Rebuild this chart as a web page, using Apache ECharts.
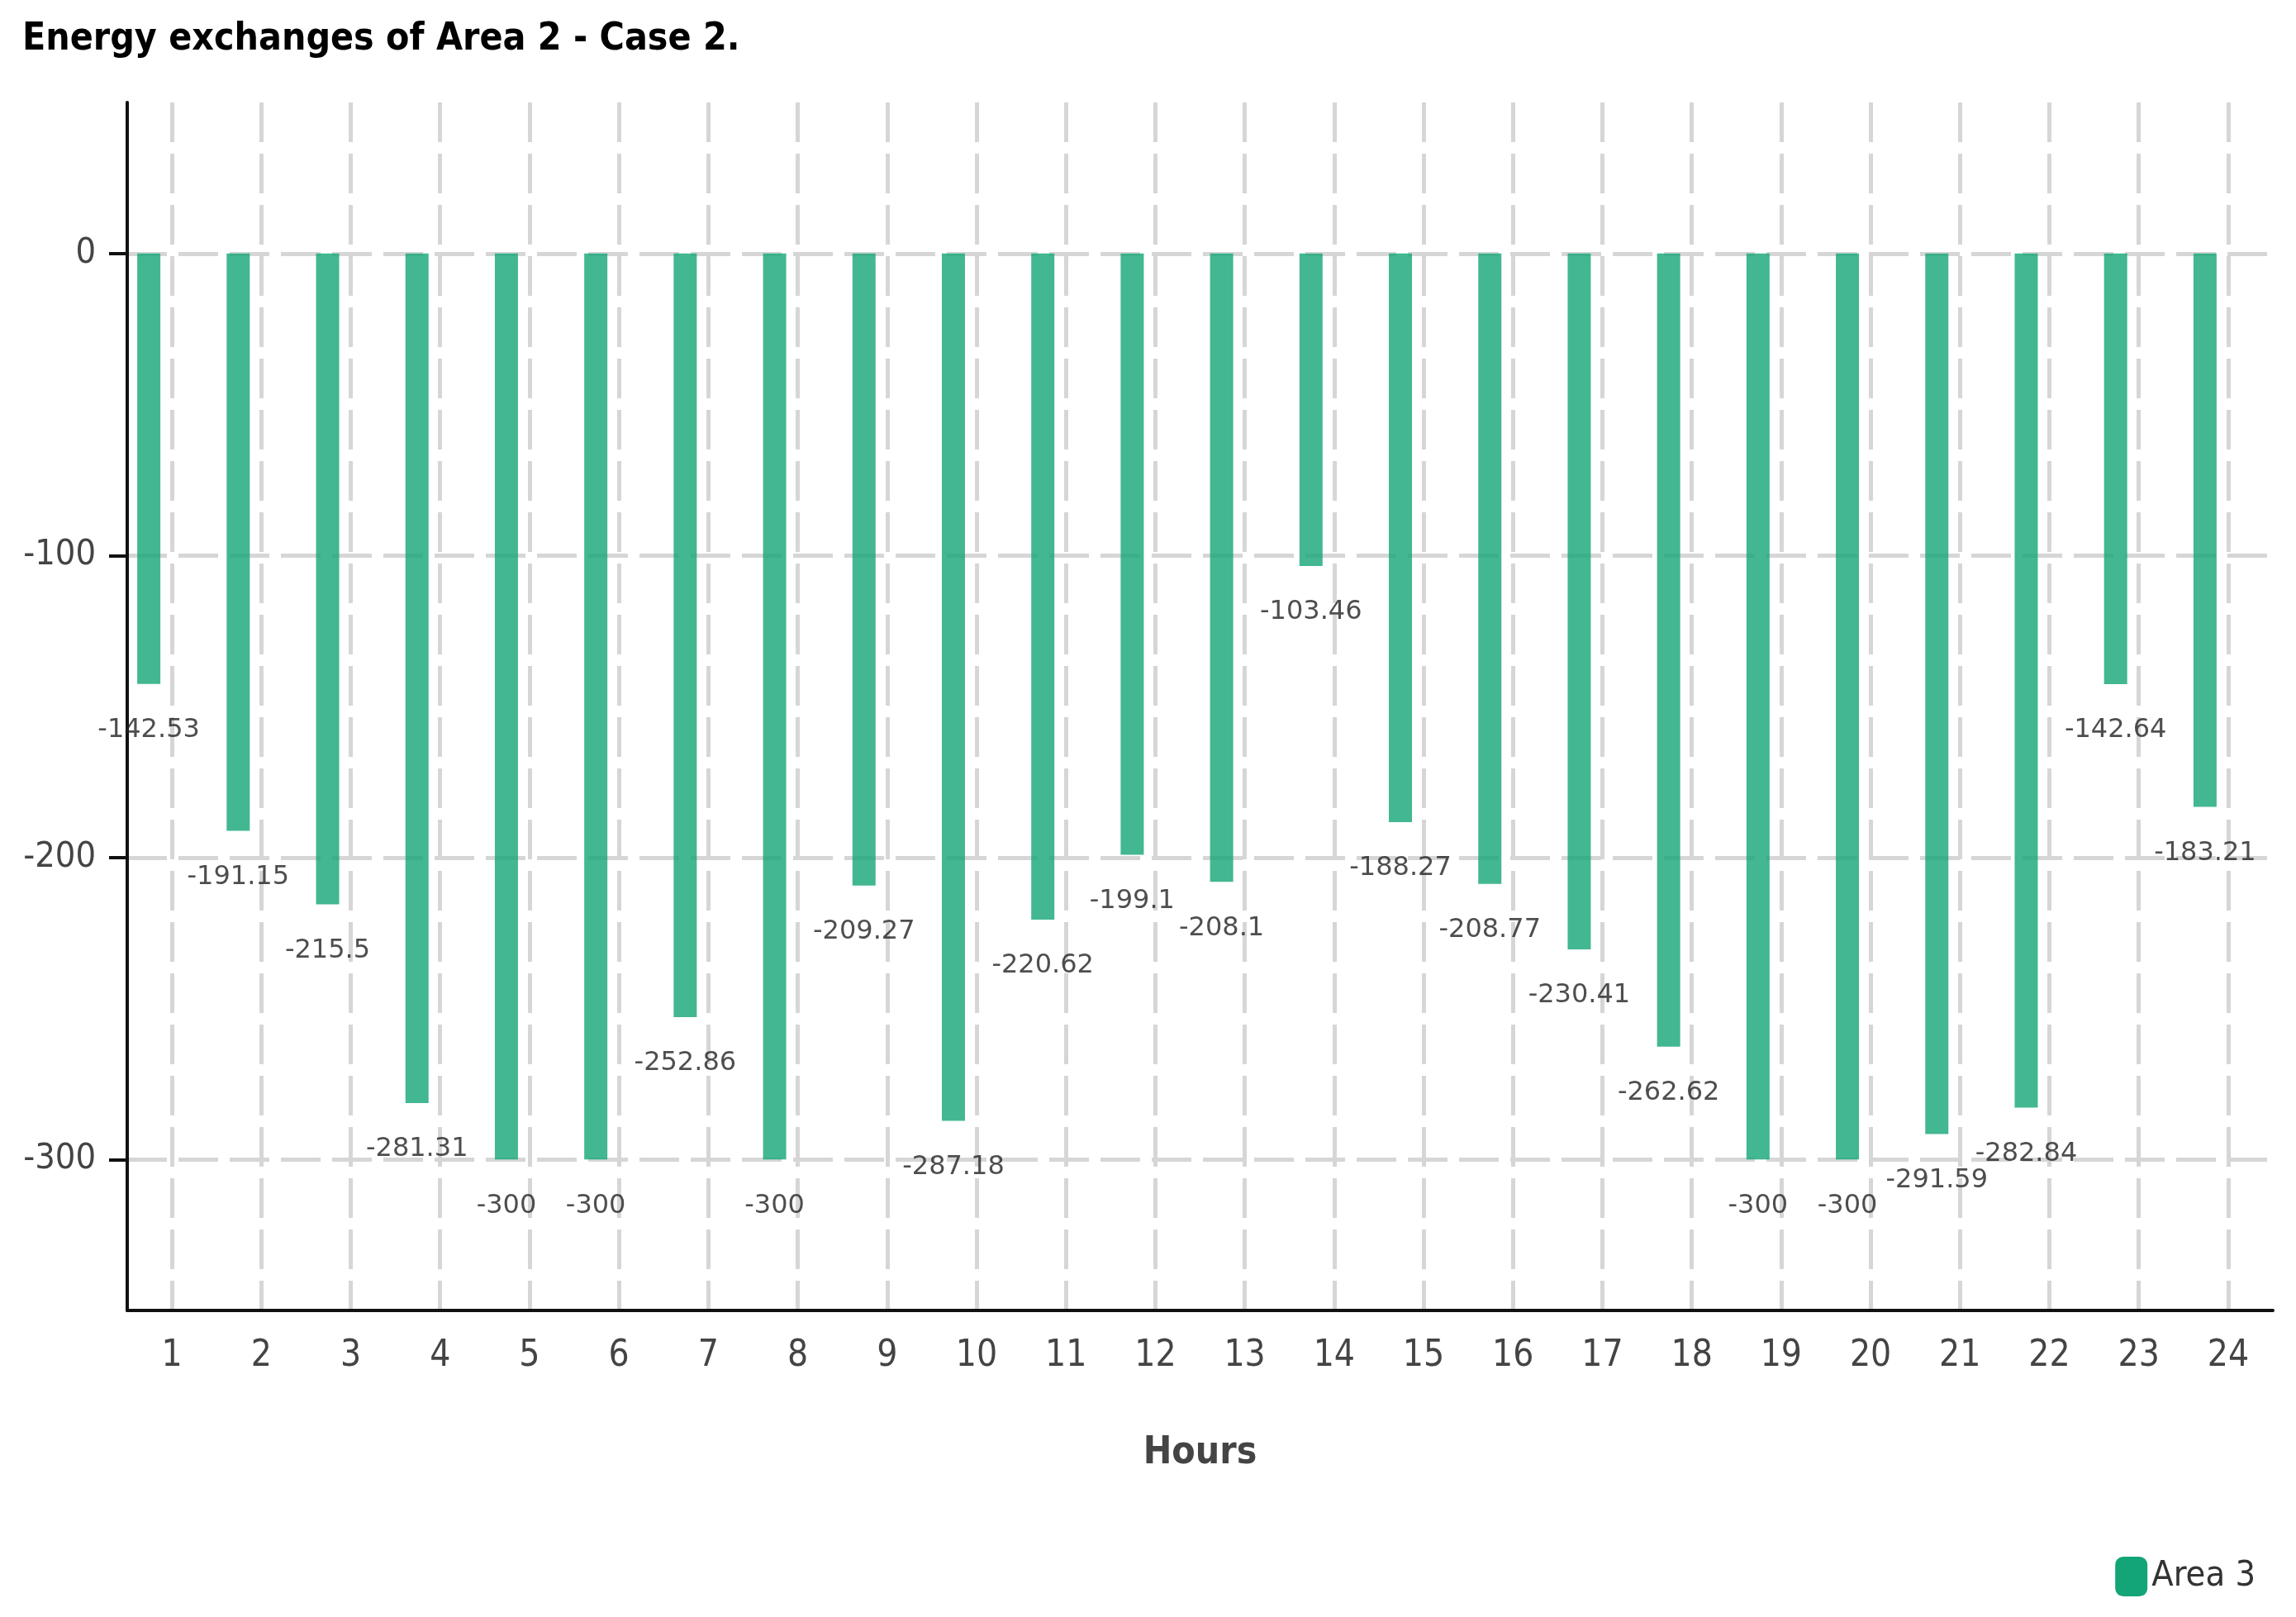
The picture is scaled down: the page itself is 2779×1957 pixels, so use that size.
<!DOCTYPE html>
<html>
<head>
<meta charset="utf-8">
<script src="https://cdn.jsdelivr.net/npm/echarts@6/dist/echarts.min.js"></script>
<style>
html,body{margin:0;padding:0;background:#fff;}
#chart{width:2779px;height:1957px;}
</style>
</head>
<body>
<div id="chart"></div>
<script>
var hours = ['1','2','3','4','5','6','7','8','9','10','11','12','13','14','15','16','17','18','19','20','21','22','23','24'];
var area3 = [-142.53, -191.15, -215.5, -281.31, -300, -300, -252.86, -300, -209.27, -287.18, -220.62, -199.1, -208.1, -103.46, -188.27, -208.77, -230.41, -262.62, -300, -300, -291.59, -282.84, -142.64, -183.21];
var yTicks = [-300, -200, -100, 0];

var chart = echarts.init(document.getElementById('chart'));
var condensed = '"DejaVu Sans Condensed", "DejaVu Sans", sans-serif';
chart.setOption({
  backgroundColor: '#ffffff',
  animation: false,
  title: {
    text: 'Energy exchanges of Area 2 - Case 2.',
    left: 22, top: 20,
    textStyle: { fontFamily: '"DejaVu Sans Condensed", sans-serif', fontWeight: 'bold', fontSize: 46, color: '#000' }
  },
  legend: {
    data: ['Area 3'],
    right: 44, bottom: 20,
    icon: 'roundRect',
    itemWidth: 39, itemHeight: 48, itemGap: 10,
    itemStyle: { opacity: 1 },
    textStyle: { fontFamily: condensed, fontSize: 43, color: '#333' }
  },
  grid: { left: 154, right: 28, top: 124, bottom: 371, containLabel: false },
  xAxis: {
    type: 'category',
    data: hours,
    name: 'Hours',
    nameLocation: 'middle',
    nameGap: 150,
    nameTextStyle: { fontFamily: '"DejaVu Sans Condensed", sans-serif', fontWeight: 'bold', fontSize: 46, color: '#444' },
    axisLine: { onZero: false, lineStyle: { color: '#111', width: 4 } },
    axisTick: { alignWithLabel: true, length: 22, lineStyle: { color: '#111', width: 4 } },
    axisLabel: { margin: 34, fontFamily: condensed, fontSize: 44, color: '#444' },
    splitLine: { show: true, alignWithLabel: true, lineStyle: { color: '#d6d6d6', width: 5, type: [48, 14] } }
  },
  yAxis: {
    type: 'value',
    min: -350, max: 50,
    axisLine: { show: true, lineStyle: { color: '#111', width: 4 } },
    axisTick: { show: true, length: 22, customValues: yTicks, lineStyle: { color: '#111', width: 4 } },
    axisLabel: { margin: 38, customValues: yTicks, fontFamily: condensed, fontSize: 43, color: '#444' },
    splitLine: { show: true, lineStyle: { color: '#d6d6d6', width: 5, type: [48, 14] } }
  },
  series: [
    {
      name: 'Area 3',
      type: 'bar',
      data: area3,
      barWidth: 28,
      barGap: '100%',
      itemStyle: { color: '#13a577', opacity: 0.8 },
      label: { show: true, position: 'bottom', distance: 40, fontFamily: '"DejaVu Sans", sans-serif', fontSize: 32, color: '#222' }
    },
    {
      name: 'spacer',
      type: 'bar',
      data: [],
      barWidth: 28,
      barGap: '100%'
    }
  ]
});
</script>
</body>
</html>
